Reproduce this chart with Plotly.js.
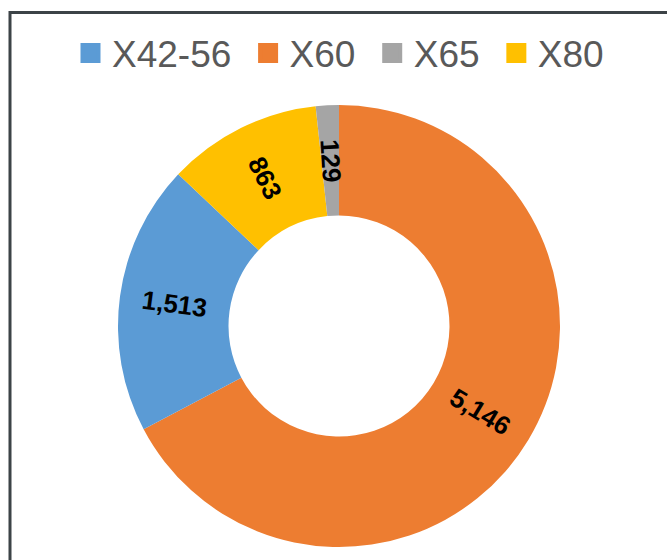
<!DOCTYPE html>
<html>
<head>
<meta charset="utf-8">
<script src="https://cdn.plot.ly/plotly-3.0.1.min.js"></script>
<style>html,body{margin:0;padding:0;background:#fff;}#chart{width:667px;height:560px;}</style>
</head>
<body>
<div id="chart"></div>
<script>
// Legend order (series order)
const legendLabels = ["X42-56", "X60", "X65", "X80"];
const legendColors = ["#5B9BD5", "#ED7D31", "#A5A5A5", "#FFC000"];

// Slice drawing order (clockwise from 12 o'clock)
const sliceLabels = ["X60", "X42-56", "X80", "X65"];
const sliceValues = [5146, 1513, 863, 129];

const W = 667, H = 560;
const HOLE = 0.5;
const domX = [117 / W, 561 / W];
const domY = [1 - 547 / H, 1 - 105 / H];

const colorOf = {};
legendLabels.forEach((l, i) => { colorOf[l] = legendColors[i]; });

const pieTrace = {
  type: "pie",
  labels: sliceLabels,
  values: sliceValues,
  sort: false,
  direction: "clockwise",
  rotation: 0,
  hole: HOLE,
  marker: { colors: sliceLabels.map(l => colorOf[l]), line: { width: 0 } },
  textinfo: "none",
  showlegend: false,
  hoverinfo: "label+value",
  domain: { x: domX, y: domY }
};

const legendTraces = legendLabels.map((l, i) => ({
  type: "scatter",
  mode: "markers",
  x: [null],
  y: [null],
  name: l + "\u00a0",
  marker: { symbol: "square", size: 16, color: legendColors[i], line: { color: legendColors[i], width: 4 } },
  showlegend: true,
  hoverinfo: "skip"
}));

// Radial data labels derived from the slice values
const total = sliceValues.reduce((a, b) => a + b, 0);
const cxPx = (domX[0] + domX[1]) / 2 * W;
const cyPx = (1 - (domY[0] + domY[1]) / 2) * H;
const rPx = Math.min((domX[1] - domX[0]) * W, (domY[1] - domY[0]) * H) / 2;
const rLab = rPx * (1 + HOLE) / 2;
let cum = 0;
const annotations = sliceValues.map((v, i) => {
  const midDeg = (cum + v / 2) / total * 360;
  cum += v;
  const th = midDeg * Math.PI / 180;
  const px = cxPx + rLab * Math.sin(th);
  const py = cyPx - rLab * Math.cos(th);
  let ang = midDeg - 90;
  while (ang >= 90) ang -= 180;
  while (ang < -90) ang += 180;
  return {
    xref: "paper", yref: "paper",
    x: px / W, y: 1 - py / H,
    xanchor: "center", yanchor: "middle",
    text: "<b>" + v.toLocaleString("en-US") + "</b>",
    textangle: ang,
    showarrow: false,
    font: { family: "Liberation Sans, Arial, sans-serif", size: 26, color: "#000000" }
  };
});

const layout = {
  width: W,
  height: H,
  margin: { l: 0, r: 0, t: 0, b: 0 },
  paper_bgcolor: "#ffffff",
  plot_bgcolor: "#ffffff",
  xaxis: { visible: false },
  yaxis: { visible: false },
  showlegend: true,
  legend: {
    orientation: "h",
    x: 344 / W,
    xanchor: "center",
    y: 1 - 53.5 / H,
    yanchor: "middle",
    itemwidth: 33,
    font: { family: "Liberation Sans, Arial, sans-serif", size: 37, color: "#595959" },
    itemclick: false,
    itemdoubleclick: false,
    bgcolor: "rgba(0,0,0,0)"
  },
  annotations: annotations,
  shapes: [
    { type: "rect", xref: "paper", yref: "paper",
      x0: 10 / W, x1: 1.05, y0: -0.05, y1: 1 - 12.5 / H,
      line: { color: "#3c4347", width: 3 }, fillcolor: "rgba(0,0,0,0)", layer: "above" }
  ]
};

Plotly.newPlot("chart", [pieTrace].concat(legendTraces), layout, { displayModeBar: false, staticPlot: true });
</script>
</body>
</html>
